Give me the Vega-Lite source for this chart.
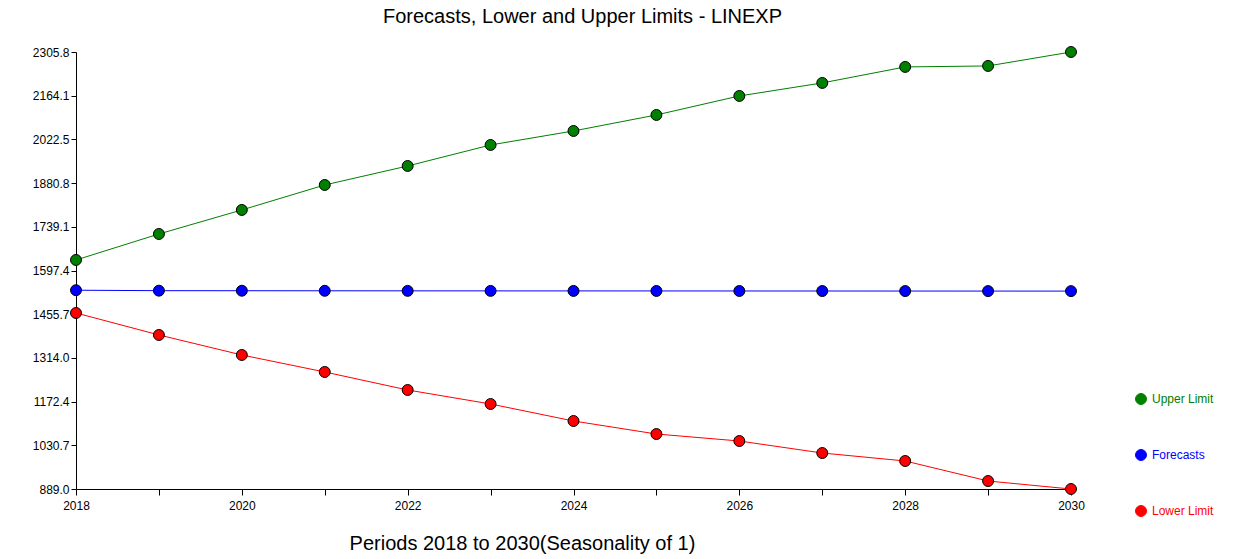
{
  "$schema": "https://vega.github.io/schema/vega-lite/v6.json",
  "width": 995,
  "height": 437,
  "autosize": "none",
  "padding": {"left": 76, "top": 52, "right": 180, "bottom": 70},
  "background": "white",
  "config": {"view": {"stroke": null}, "font": "Liberation Sans"},
  "title": {"text": "Forecasts, Lower and Upper Limits - LINEXP", "fontSize": 20, "fontWeight": "normal", "font": "Liberation Sans", "color": "black", "anchor": "middle", "dx": 9, "offset": 18},
  "data": {"values": [
    {"year": 2018, "series": "Upper Limit", "v": 1631.5},
    {"year": 2019, "series": "Upper Limit", "v": 1715.8},
    {"year": 2020, "series": "Upper Limit", "v": 1793.7},
    {"year": 2021, "series": "Upper Limit", "v": 1874.7},
    {"year": 2022, "series": "Upper Limit", "v": 1936.3},
    {"year": 2023, "series": "Upper Limit", "v": 2004.4},
    {"year": 2024, "series": "Upper Limit", "v": 2049.8},
    {"year": 2025, "series": "Upper Limit", "v": 2101.7},
    {"year": 2026, "series": "Upper Limit", "v": 2163.3},
    {"year": 2027, "series": "Upper Limit", "v": 2205.5},
    {"year": 2028, "series": "Upper Limit", "v": 2257.4},
    {"year": 2029, "series": "Upper Limit", "v": 2260.6},
    {"year": 2030, "series": "Upper Limit", "v": 2305.8},
    {"year": 2018, "series": "Forecasts", "v": 1533.5},
    {"year": 2019, "series": "Forecasts", "v": 1532.0},
    {"year": 2020, "series": "Forecasts", "v": 1531.8},
    {"year": 2021, "series": "Forecasts", "v": 1531.6},
    {"year": 2022, "series": "Forecasts", "v": 1531.4},
    {"year": 2023, "series": "Forecasts", "v": 1531.3},
    {"year": 2024, "series": "Forecasts", "v": 1531.2},
    {"year": 2025, "series": "Forecasts", "v": 1531.1},
    {"year": 2026, "series": "Forecasts", "v": 1531.0},
    {"year": 2027, "series": "Forecasts", "v": 1530.9},
    {"year": 2028, "series": "Forecasts", "v": 1530.8},
    {"year": 2029, "series": "Forecasts", "v": 1530.7},
    {"year": 2030, "series": "Forecasts", "v": 1530.6},
    {"year": 2018, "series": "Lower Limit", "v": 1459.7},
    {"year": 2019, "series": "Lower Limit", "v": 1388.4},
    {"year": 2020, "series": "Lower Limit", "v": 1323.5},
    {"year": 2021, "series": "Lower Limit", "v": 1268.4},
    {"year": 2022, "series": "Lower Limit", "v": 1210.0},
    {"year": 2023, "series": "Lower Limit", "v": 1164.6},
    {"year": 2024, "series": "Lower Limit", "v": 1109.5},
    {"year": 2025, "series": "Lower Limit", "v": 1067.3},
    {"year": 2026, "series": "Lower Limit", "v": 1044.6},
    {"year": 2027, "series": "Lower Limit", "v": 1005.7},
    {"year": 2028, "series": "Lower Limit", "v": 979.8},
    {"year": 2029, "series": "Lower Limit", "v": 914.9},
    {"year": 2030, "series": "Lower Limit", "v": 889.0}
  ]},
  "encoding": {
    "x": {"field": "year", "type": "quantitative",
      "scale": {"domain": [2018, 2030], "nice": false, "zero": false},
      "axis": {"values": [2018,2019,2020,2021,2022,2023,2024,2025,2026,2027,2028,2029,2030],
        "labelExpr": "datum.value % 2 == 0 ? format(datum.value, 'd') : ''",
        "grid": false, "domainColor": "black", "tickColor": "black", "tickSize": 6,
        "labelColor": "black", "labelFontSize": 12, "labelFont": "Liberation Sans", "labelPadding": 5,
        "title": "Periods 2018 to 2030(Seasonality of 1)", "titleFontSize": 20, "titleFontWeight": "normal",
        "titleFont": "Liberation Sans", "titleColor": "black", "titleX": 446, "titleY": 54, "titleAlign": "center", "titleBaseline": "middle",
        "labelFlush": false}},
    "y": {"field": "v", "type": "quantitative",
      "scale": {"domain": [889.0, 2305.8], "nice": false, "zero": false},
      "axis": {"values": [889.0, 1030.68, 1172.36, 1314.04, 1455.72, 1597.4, 1739.08, 1880.76, 2022.46, 2164.12, 2305.8],
        "format": ".1f", "grid": false, "domainColor": "black", "tickColor": "black", "tickSize": 5,
        "labelColor": "black", "labelFontSize": 12, "labelFont": "Liberation Sans", "labelPadding": 2, "title": null}},
    "color": {"field": "series", "type": "nominal",
      "scale": {"domain": ["Upper Limit", "Forecasts", "Lower Limit"], "range": ["#008000", "#0000ff", "#ff0000"]},
      "legend": {"orient": "none", "legendX": 1059, "legendY": 341, "title": null, "padding": 0,
        "symbolType": "circle", "symbolSize": 120, "symbolStrokeColor": "black", "symbolStrokeWidth": 1,
        "rowPadding": 40, "labelFontSize": 12, "labelFont": "Liberation Sans", "labelOffset": 5,
        "encode": {"labels": {"update": {"fill": {"scale": "color", "field": "value"}}},
                   "symbols": {"update": {"fill": {"scale": "color", "field": "value"}, "stroke": {"value": "black"}, "strokeWidth": {"value": 1}}}}}}
  },
  "layer": [
    {"mark": {"type": "line", "strokeWidth": 1}},
    {"mark": {"type": "point", "shape": "circle", "filled": true, "size": 120, "stroke": "black", "strokeWidth": 1, "opacity": 1}}
  ]
}
